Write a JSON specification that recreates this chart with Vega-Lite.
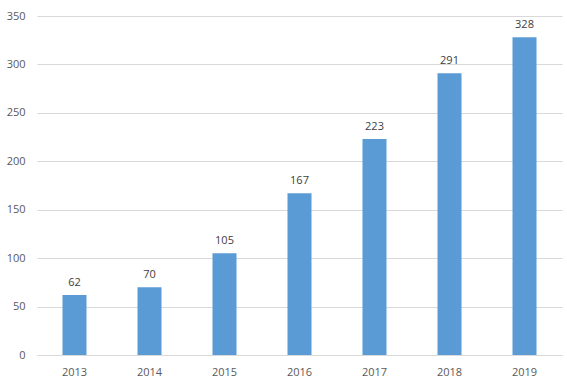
{
  "$schema": "https://vega.github.io/schema/vega-lite/v6.json",
  "autosize": {"type": "none"},
  "padding": {"left": 37, "top": 16, "right": 5, "bottom": 36},
  "width": 525,
  "height": 339,
  "background": "white",
  "config": {
    "view": {"stroke": null},
    "font": "Open Sans",
    "axis": {"labelFont": "Open Sans", "labelFontSize": 11, "labelColor": "#595959", "ticks": false, "title": null}
  },
  "data": {"values": [
    {"year": "2013", "value": 62},
    {"year": "2014", "value": 70},
    {"year": "2015", "value": 105},
    {"year": "2016", "value": 167},
    {"year": "2017", "value": 223},
    {"year": "2018", "value": 291},
    {"year": "2019", "value": 328}
  ]},
  "encoding": {
    "x": {"field": "year", "type": "ordinal", "scale": {"paddingInner": 0.68, "paddingOuter": 0.34},
      "axis": {"labelAngle": 0, "domainColor": "#d9d9d9", "labelPadding": 11}},
    "y": {"field": "value", "type": "quantitative", "scale": {"domain": [0, 350]},
      "axis": {"values": [0, 50, 100, 150, 200, 250, 300, 350], "domain": false, "gridColor": "#d9d9d9", "labelPadding": 12}}
  },
  "layer": [
    {"mark": {"type": "bar", "color": "#5b9bd5"}},
    {"mark": {"type": "text", "dy": -12, "fontSize": 11, "color": "#404040", "font": "Open Sans"},
     "encoding": {"text": {"field": "value", "type": "quantitative"}}}
  ]
}
